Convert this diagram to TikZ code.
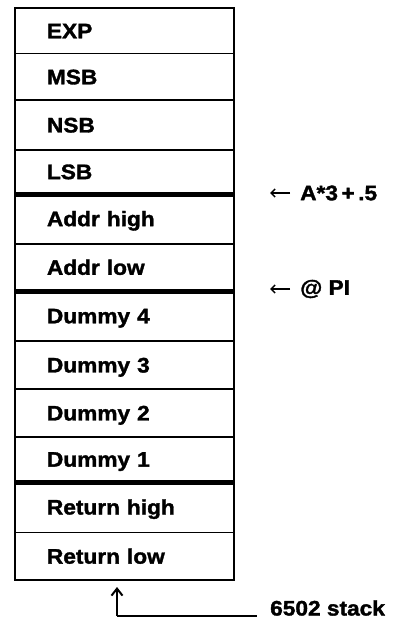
\documentclass[tikz,border=0pt]{standalone}
\usepackage{fontspec}
\setmainfont{Liberation Sans}[FakeStretch=1.08, FakeBold=1.6]
\usetikzlibrary{arrows.meta}

\tikzset{
  rowbox/.style={draw, line width=1.6pt, anchor=north west,
    minimum width=219.3pt, text width=155pt, inner xsep=32pt, inner ysep=0pt,
    align=left, text height=15pt, text depth=0pt,
    font=\fontsize{21}{25}\selectfont\bfseries},
  divider/.style={line width=5.5pt},
  note/.style={anchor=west, inner sep=0pt,
    font=\fontsize{21}{25}\selectfont\bfseries},
  pointer/.style={line width=1.5pt, -{Straight Barb[length=4pt,width=8pt,line width=1.5pt]}},
  marker/.style={line width=2pt, -{Straight Barb[length=7pt,width=11pt,line width=2pt]}}
}

\begin{document}
\begin{tikzpicture}[x=1pt, y=-1pt]
  \useasboundingbox (0,0) rectangle (402,620);

  % stack cells, top to bottom
  \node[rowbox, minimum height=45.4pt] (exp)   at (14,7.3)   {EXP};
  \node[rowbox, minimum height=46.6pt] (msb)   at (14,52.7)  {MSB};
  \node[rowbox, minimum height=49.7pt] (nsb)   at (14,99.3)  {NSB};
  \node[rowbox, minimum height=43.7pt] (lsb)   at (14,149)   {LSB};
  \node[rowbox, minimum height=50.3pt] (addrh) at (14,192.7) {Addr high};
  \node[rowbox, minimum height=47pt]   (addrl) at (14,243)   {Addr low};
  \node[rowbox, minimum height=50pt]   (dum4)  at (14,290)   {Dummy 4};
  \node[rowbox, minimum height=48.3pt] (dum3)  at (14,340)   {Dummy 3};
  \node[rowbox, minimum height=47.7pt] (dum2)  at (14,388.3) {Dummy 2};
  \node[rowbox, minimum height=44.7pt] (dum1)  at (14,436)   {Dummy 1};
  \node[rowbox, minimum height=51pt]   (reth)  at (14,480.7) {Return high};
  \node[rowbox, minimum height=47.3pt] (retl)  at (14,531.7) {Return low};

  % heavy separators between groups
  \draw[divider] (lsb.south west)  -- (lsb.south east);
  \draw[divider] (addrl.south west) -- (addrl.south east);
  \draw[divider] (dum1.south west) -- (dum1.south east);

  % side annotations
  \node[note] (expr) at (300,193) {A*3\,+\,.5};
  \node[note] (pi)   at (300,289) {@ PI};
  \coordinate (exprtip) at (270,193);
  \coordinate (pitip)   at (270,289);
  \draw[pointer] ([xshift=-10pt]expr.west) -- (exprtip);
  \draw[pointer] ([xshift=-10pt]pi.west) -- (pitip);

  % stack pointer marker
  \node[note, anchor=base west] (sp) at (270,615.5) {6502 stack};
  \coordinate (sptip)    at (117,587);
  \coordinate (spcorner) at (117,616);
  \coordinate (spend)    at (257,616);
  \draw[line width=2pt] (spcorner) -- (spend);
  \draw[marker] (spcorner) -- (sptip);
\end{tikzpicture}
\end{document}
